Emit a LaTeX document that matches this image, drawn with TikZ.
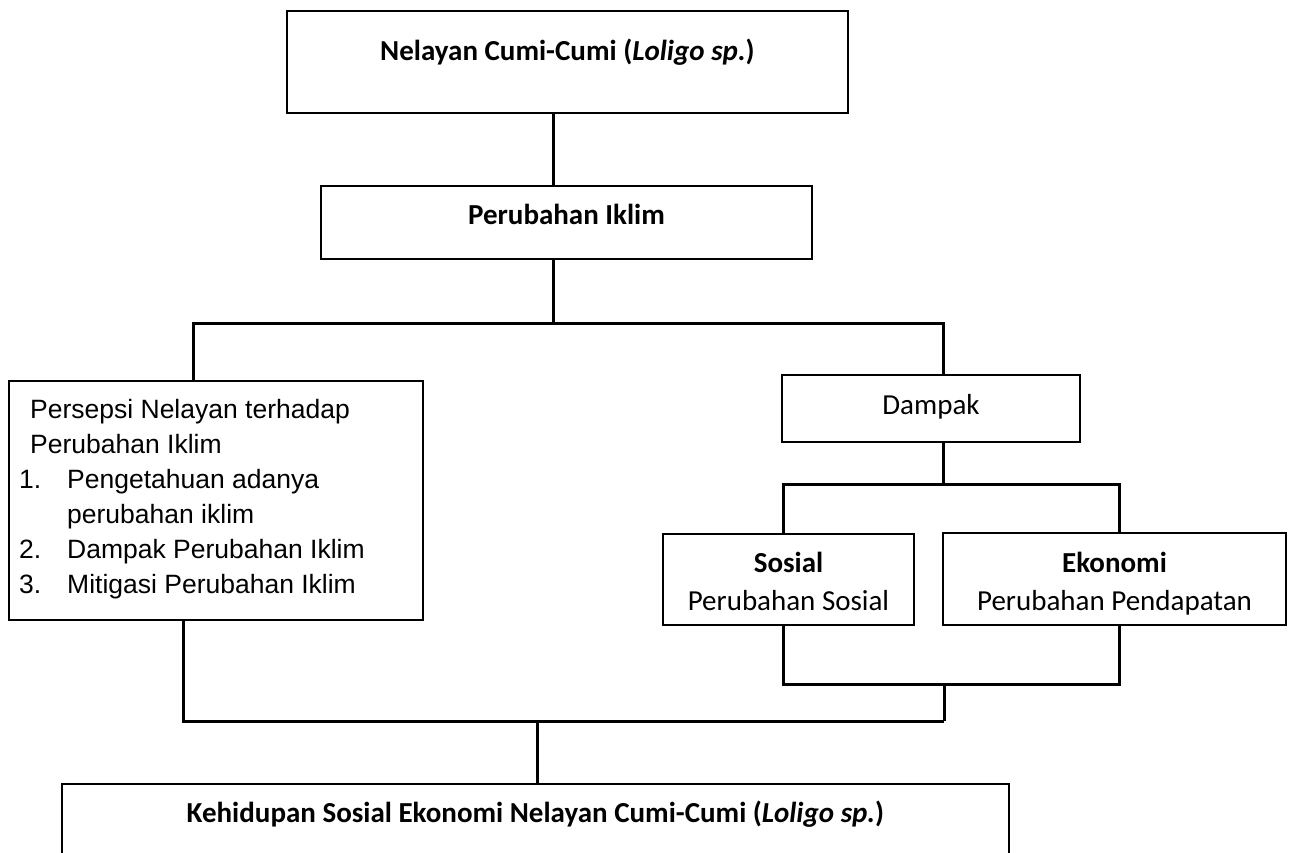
\documentclass[tikz,border=0pt]{standalone}
\usepackage{fontspec}
\setmainfont{Carlito}
\newfontfamily\arialf{Liberation Sans}
\begin{document}
\begin{tikzpicture}[x=1pt,y=-1pt,
  box/.style={draw, line width=2pt, rectangle, inner sep=0pt},
  conn/.style={line width=3pt, line join=miter},
  lbl/.style={inner sep=0pt, anchor=base, font=\fontsize{29}{34}\selectfont},
  blbl/.style={lbl, font=\fontsize{29}{34}\selectfont\bfseries},
  alb/.style={inner sep=0pt, anchor=base west, font=\arialf\fontsize{26.5}{32}\selectfont}]
\path[use as bounding box, clip] (0,0) rectangle (1294,852);
% boxes
\node[box, minimum width=561pt, minimum height=102pt] (top) at (567.5,62) {};
\node[box, minimum width=491pt, minimum height=73pt] (pi) at (566.5,222.5) {};
\node[box, minimum width=414pt, minimum height=239pt] (per) at (216,500.5) {};
\node[box, minimum width=298pt, minimum height=67pt] (dampak) at (931,408.5) {};
\node[box, minimum width=251pt, minimum height=91pt] (sosial) at (788.5,579.5) {};
\node[box, minimum width=343pt, minimum height=92pt] (ekonomi) at (1114.5,579) {};
\node[box, minimum width=947pt, minimum height=150pt] (bottom) at (535.5,859) {};
% texts
\node[blbl] (ttop) at (567.5,60) {Nelayan Cumi-Cumi (\textit{Loligo sp.})};
\node[blbl] (tpi) at (566.5,224) {Perubahan Iklim};
\node[lbl] (tdampak) at (931,414) {Dampak};
\node[blbl] (tsos1) at (788.5,572) {Sosial};
\node[lbl] (tsos2) at (788.5,610) {Perubahan Sosial};
\node[blbl] (teko1) at (1114.5,572) {Ekonomi};
\node[lbl] (teko2) at (1114.5,610) {Perubahan Pendapatan};
\node[blbl] (tbottom) at (535.5,822) {Kehidupan Sosial Ekonomi Nelayan Cumi-Cumi (\textit{Loligo sp.})};
\node[alb] (p1) at (30,418) {Persepsi Nelayan terhadap};
\node[alb] (p2) at (30,453) {Perubahan Iklim};
\node[alb] (n1) at (19,488) {1.};
\node[alb] (p3) at (67,488) {Pengetahuan adanya};
\node[alb] (p4) at (67,523) {perubahan iklim};
\node[alb] (n2) at (19,558) {2.};
\node[alb] (p5) at (67,558) {Dampak Perubahan Iklim};
\node[alb] (n3) at (19,593) {3.};
\node[alb] (p6) at (67,593) {Mitigasi Perubahan Iklim};
% junction coordinates
\coordinate (xa) at (553,0);
\coordinate (xb) at (193,0);
\coordinate (xc) at (943,0);
\coordinate (xd) at (783,0);
\coordinate (xe) at (1119,0);
\coordinate (xf) at (944,0);
\coordinate (xg) at (183,0);
\coordinate (xh) at (537,0);
\coordinate (h1) at (0,323);
\coordinate (h2) at (0,484);
\coordinate (h3) at (0,684);
\coordinate (h4) at (0,721);
% connectors
\draw[conn] (top.south -| xa) -- (pi.north -| xa);
\draw[conn] (pi.south -| xa) -- (xa |- h1);
\draw[conn] (per.north -| xb) -- (xb |- h1) -- (xc |- h1) -- (dampak.north -| xc);
\draw[conn] (dampak.south -| xc) -- (xc |- h2);
\draw[conn] (sosial.north -| xd) -- (xd |- h2) -- (xe |- h2) -- (ekonomi.north -| xe);
\draw[conn] (sosial.south -| xd) -- (xd |- h3) -- (xe |- h3) -- (ekonomi.south -| xe);
\draw[conn] (xf |- h3) -- (xf |- h4);
\draw[conn] (per.south -| xg) -- (xg |- h4) -- (xf |- h4);
\draw[conn] (xh |- h4) -- (bottom.north -| xh);
\end{tikzpicture}
\end{document}
